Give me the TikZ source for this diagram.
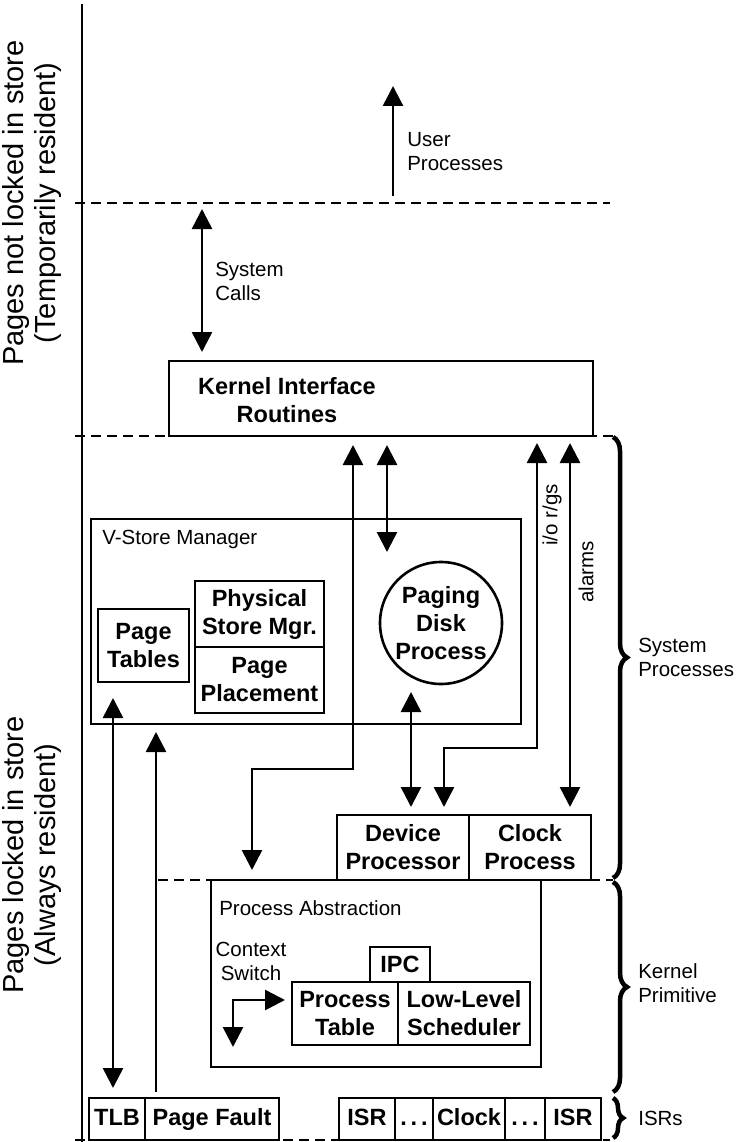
\documentclass[tikz,border=0pt]{standalone}
\usepackage{fontspec}
\setmainfont{Liberation Sans}
\usetikzlibrary{arrows.meta, positioning, decorations.pathreplacing}

\begin{document}
\begin{tikzpicture}[
            x=1pt, y=-1pt, line width=2.6pt,
            box/.style={draw, outer sep=0pt, inner sep=0pt, align=center,
                    font=\fontsize{23.5}{28}\selectfont\bfseries},
            cell/.style={box, minimum height=42pt, text height=17pt, text depth=4pt},
            btxt/.style={inner sep=0pt, align=center,
                    font=\fontsize{23.5}{28}\selectfont\bfseries},
            lbl/.style={inner sep=0pt, align=left, font=\fontsize{20.5}{24}\selectfont},
            side/.style={inner sep=0pt, align=center, rotate=90,
                    font=\fontsize{29}{32}\selectfont},
            level/.style={line width=1.2pt, dash pattern=on 10pt off 6pt},
            arr/.style={-{Triangle[length=20pt, width=20pt]}},
            dbl/.style={{Triangle[length=20pt, width=20pt]}-{Triangle[length=20pt, width=20pt]}},
            curly/.style={decorate, decoration={brace, amplitude=14pt}, line width=4.5pt}]

        \useasboundingbox (0,0) rectangle (738,1142);

        % store boundary and levels
        \draw (82,4) -- (82,1142);
        \draw[level] (75,203) -- (610,203);
        \draw[level] (75,436) -- (613,436);
        \draw[level] (158,880) -- (613,880);
        \draw[level] (75,1140) -- (610,1140);

        \node[side] (unlocked) at (32,203) {Pages not locked in store\\(Temporarily resident)};
        \node[side] (locked) at (32,855) {Pages locked in store\\(Always resident)};

        \node[box, minimum width=424pt, minimum height=75pt, anchor=north west] (kir) at (169,361) {};
        \node[btxt] (kirtext) at (287,400) {Kernel Interface\\Routines};

        \node[box, minimum width=430pt, minimum height=205pt, anchor=north west] (vsm) at (91,519) {};
        \node[lbl, anchor=west] (vsmtext) at (101,539) {V-Store Manager};
        \node[box, minimum width=91pt, minimum height=73pt, anchor=north west] (ptab) at (98,609) {Page\\Tables};
        \node[box, minimum width=129pt, minimum height=66pt, anchor=north west] (psm) at (195,581) {Physical\\Store Mgr.};
        \node[box, minimum width=129pt, minimum height=66pt, below=0pt of psm] (ppl) {Page\\Placement};
        \node[box, circle, minimum size=122pt] (pdp) at (441,623) {Paging\\Disk\\Process};

        \node[box, minimum width=132pt, minimum height=65pt, anchor=north west] (dev) at (337,815) {Device\\Processor};
        \node[box, minimum width=122pt, minimum height=65pt, right=0pt of dev] (clk) {Clock\\Process};

        \node[box, minimum width=330pt, minimum height=187pt, anchor=north west] (pa) at (211,880) {};
        \node[lbl, anchor=west] (patext) at (218,908) {Process Abstraction};
        \node[lbl, align=center] (cstext) at (251,961) {Context\\Switch};
        \node[box, minimum width=60pt, minimum height=35pt, anchor=north west] (ipc) at (370,947) {IPC};
        \node[box, minimum width=106pt, minimum height=63pt, anchor=north west] (ptbl) at (292,982) {Process\\Table};
        \node[box, minimum width=132pt, minimum height=63pt, right=0pt of ptbl] (lls) {Low-Level\\Scheduler};

        \node[cell, minimum width=56pt, anchor=north west] (tlb) at (89,1098) {TLB};
        \node[cell, minimum width=134pt, right=0pt of tlb] (pf) {Page Fault};
        \node[cell, minimum width=56pt, anchor=north west] (isra) at (339,1098) {ISR};
        \node[cell, minimum width=38pt, right=0pt of isra] (dotsa) {.\,.\,.};
        \node[cell, minimum width=72pt, right=0pt of dotsa] (clkisr) {Clock};
        \node[cell, minimum width=40pt, right=0pt of clkisr] (dotsb) {.\,.\,.};
        \node[cell, minimum width=56pt, right=0pt of dotsb] (isrb) {ISR};

        \node[lbl, anchor=west] (usertext) at (406,152) {User\\Processes};
        \node[lbl, anchor=west] (sctext) at (214,281) {System\\Calls};
        \node[lbl, rotate=90] (iotext) at (552,515) {i/o r/gs};
        \node[lbl, rotate=90] (alarmtext) at (586,572) {alarms};

        \node[lbl, anchor=west] (sptext) at (637,657) {System\\Processes};
        \node[lbl, anchor=west] (kptext) at (637,983) {Kernel\\Primitive};
        \node[lbl, anchor=west] (isrtext) at (637,1118) {ISRs};

        \draw[curly] (613,437) -- (613,878);
        \draw[curly] (613,882) -- (613,1092);
        \draw[curly, decoration={amplitude=10pt}] (613,1098) -- (613,1138);

        \coordinate (ufoot) at (393,196);
        \coordinate (utip) at (393,86);
        \coordinate (sctop) at (202,209);
        \coordinate (xa) at (353,0);
        \coordinate (xb) at (387,0);
        \coordinate (xc) at (537,0);
        \coordinate (xd) at (570,0);
        \coordinate (xe) at (411,0);
        \coordinate (xf) at (156,0);
        \coordinate (abend) at (252,769);
        \coordinate (cbend) at (444,748);
        \coordinate (btip) at (387,552);
        \coordinate (tlbtip) at (113,698);
        \coordinate (csfoot) at (233,1047);

        \draw[arr] (ufoot) -- (utip);
        \draw[dbl, shorten >=9pt] (sctop) -- (sctop |- kir.north);
        \draw[dbl, shorten <=9pt, shorten >=10pt] (kir.south -| xa) |- (abend) -- (abend |- pa.north);
        \draw[dbl, shorten <=9pt] (kir.south -| xb) -- (btip);
        \draw[dbl, shorten <=7pt, shorten >=8pt] (kir.south -| xc) |- (cbend) -- (cbend |- dev.north);
        \draw[dbl, shorten <=7pt, shorten >=8pt] (kir.south -| xd) -- (clk.north -| xd);
        \draw[dbl, shorten <=8pt, shorten >=8pt] (pdp.south -| xe) -- (dev.north -| xe);
        \draw[dbl, shorten >=10pt] (tlbtip) -- (tlbtip |- tlb.north);
        \draw[arr, shorten <=6pt, shorten >=8pt] (pf.north -| xf) -- (vsm.south -| xf);
        \draw[dbl, shorten >=7pt] (csfoot) |- ([yshift=13.5pt]ptbl.west);
    \end{tikzpicture}
\end{document}
